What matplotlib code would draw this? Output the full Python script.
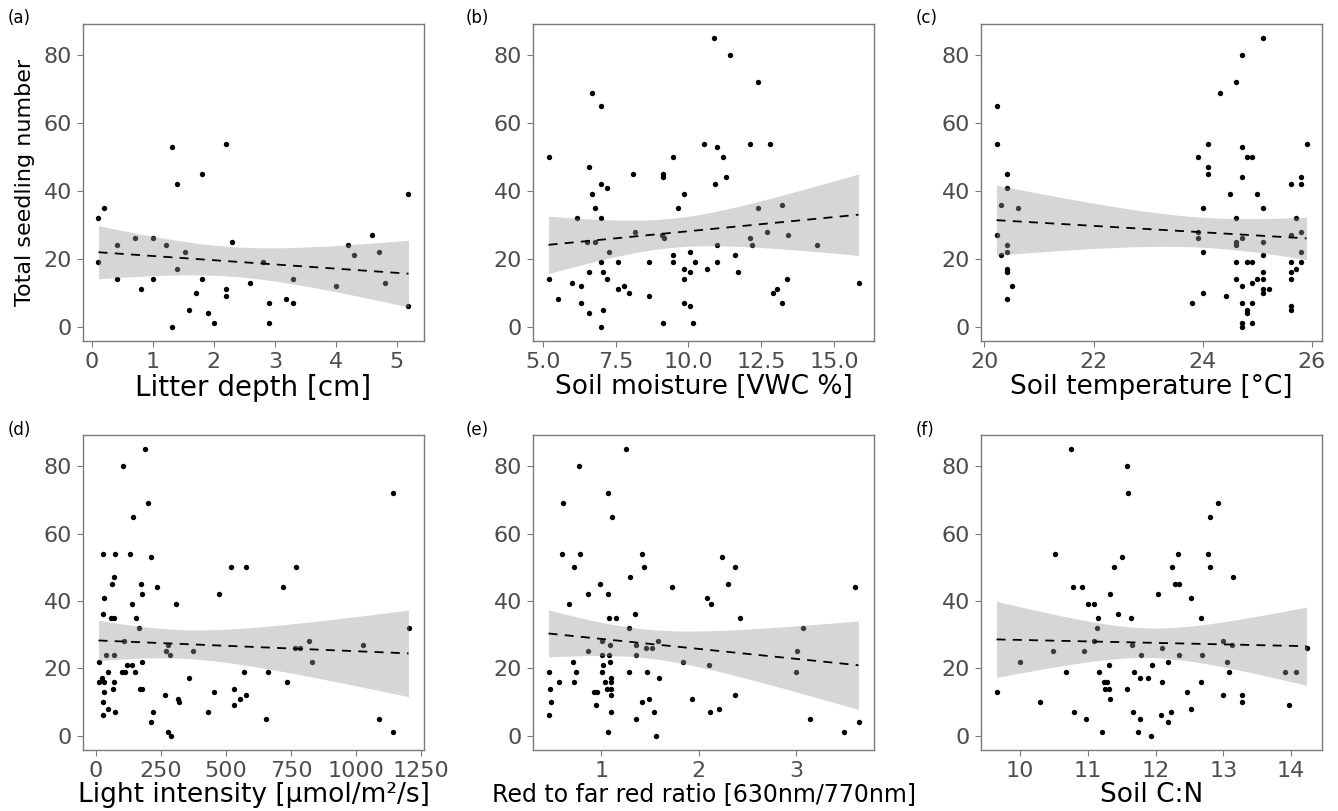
import numpy as np
import matplotlib
matplotlib.use("Agg")
import matplotlib.pyplot as plt

plt.rcParams['font.family'] = ['DejaVu Sans']

# ---------------- data ----------------
litter_x = [0.11, 0.20, 0.11, 0.41, 0.41, 0.71, 0.80, 1.01, 1.01, 1.21, 1.31, 1.31, 1.40, 1.40,
            1.52, 1.60, 1.70, 1.81, 1.81, 1.91, 2.00, 2.20, 2.20, 2.20, 2.30, 2.60, 2.80, 2.91,
            2.91, 3.19, 3.30, 3.30, 4.00, 4.20, 4.30, 4.59, 4.70, 4.80, 5.19, 5.19]
litter_y = [32, 35, 19, 24, 14, 26, 11, 26, 14, 24, 53, 0, 42, 17,
            22, 5, 10, 45, 14, 4, 1, 54, 11, 9, 25, 13, 19, 7,
            1, 8, 14, 7, 12, 24, 21, 27, 22, 13, 39, 6]

moist_x = [5.20, 5.20, 5.51, 6.00, 6.19, 6.31, 6.31, 6.51, 6.59, 6.59, 6.59, 6.69, 6.69, 6.78,
           6.78, 6.99, 6.99, 6.99, 6.99, 6.99, 7.08, 7.08, 7.20, 7.20, 7.27, 7.58, 7.58, 7.78,
           7.96, 8.09, 8.16, 8.66, 8.66, 9.14, 9.14, 9.10, 9.17, 9.14, 9.46, 9.46, 9.46, 9.65,
           9.85, 9.85, 9.85, 9.85, 10.05, 10.05, 10.05, 10.15, 10.24, 10.54, 10.65, 10.86, 10.91,
           10.99, 10.99, 10.99, 11.41, 12.39, 11.20, 12.11, 12.81, 11.28, 12.39, 13.20, 12.69,
           12.11, 12.19, 13.41, 14.42, 11.59, 11.69, 13.39, 13.02, 12.90, 13.20, 15.83]
moist_y = [50, 14, 8, 13, 32, 12, 7, 25, 47, 16, 4, 69, 39, 35,
           25, 65, 42, 32, 19, 0, 16, 5, 41, 14, 22, 19, 11, 12,
           10, 45, 28, 19, 9, 45, 44, 27, 26, 1, 50, 21, 19, 35,
           39, 17, 14, 7, 22, 16, 6, 1, 19, 54, 17, 85, 42,
           53, 24, 19, 80, 72, 50, 54, 54, 44, 35, 36, 28,
           26, 24, 27, 24, 21, 16, 14, 11, 10, 7, 13]

temp_x = [20.22, 20.22, 20.41, 20.41, 20.30, 20.61, 20.22, 20.41, 20.41, 20.30, 20.41, 20.41,
          20.51, 20.41, 25.11, 24.72, 24.61, 24.31, 24.10, 24.72, 25.90, 23.92, 24.81, 24.91,
          24.10, 24.10, 24.72, 25.80, 25.61, 25.80, 24.50, 25.00, 24.00, 25.11, 24.61, 25.71,
          23.92, 23.92, 24.61, 24.61, 24.72, 25.11, 25.61, 25.80, 25.80, 24.00, 24.61, 24.81,
          24.91, 25.11, 25.61, 25.80, 25.71, 25.11, 25.61, 24.61, 25.00, 25.11, 24.91, 25.61,
          24.72, 25.11, 25.21, 25.11, 24.00, 24.42, 23.81, 24.72, 24.91, 24.81, 24.81, 25.61,
          25.61, 24.72, 24.72, 24.91]
temp_y = [65, 54, 45, 41, 36, 35, 27, 24, 22, 21, 17, 16,
          12, 8, 85, 80, 72, 69, 54, 53, 54, 50, 50, 50,
          47, 45, 44, 44, 42, 42, 39, 39, 35, 35, 32, 32,
          28, 26, 25, 24, 26, 25, 27, 28, 22, 22, 19, 19,
          19, 21, 19, 19, 17, 16, 16, 14, 14, 14, 13, 14,
          12, 11, 11, 10, 10, 9, 7, 7, 7, 5, 4, 6,
          5, 1, 0, 1]

light_x = [187, 104, 201, 142, 29, 73, 131, 213, 69, 60, 173, 179, 236, 33, 138, 306, 26, 58,
           69, 153, 165, 12, 38, 69, 109, 45, 10, 24, 33, 33, 69, 65, 26, 45, 29, 73, 101, 113,
           121, 138, 149, 168, 178, 179, 218, 213, 265, 276, 271, 283, 277, 287, 314, 321, 358,
           372, 432, 454, 473, 519, 576, 529, 532, 555, 568, 577, 655, 660, 719, 768, 733, 765,
           785, 820, 829, 1026, 1086, 1140, 1140, 1201]
light_y = [85, 80, 69, 65, 54, 54, 54, 53, 47, 45, 45, 42, 44, 41, 39, 39, 36, 35,
           35, 35, 32, 22, 24, 24, 28, 19, 16, 17, 16, 13, 16, 14, 10, 8, 6, 7, 19, 19,
           21, 21, 19, 14, 14, 22, 7, 4, 12, 27, 25, 24, 1, 0, 11, 10, 17,
           25, 7, 13, 42, 50, 50, 14, 9, 11, 19, 12, 5, 19, 44, 50, 16, 26,
           26, 28, 22, 27, 5, 72, 1, 32]

rfr_x = [1.26, 0.77, 1.07, 0.61, 1.11, 0.60, 0.78, 1.42, 0.72, 1.44, 1.30, 0.99, 1.73, 0.87,
         1.07, 0.67, 1.35, 1.08, 1.15, 1.29, 1.01, 1.09, 0.87, 1.01, 1.08, 1.36, 1.36, 1.46,
         1.52, 1.58, 1.02, 1.09, 0.71, 0.47, 0.74, 1.01, 1.29, 1.47, 0.57, 0.72, 1.04, 1.10,
         1.10, 1.59, 0.48, 1.06, 1.10, 0.93, 0.96, 1.10, 0.49, 0.95, 1.42, 1.49, 1.93, 0.46,
         1.10, 1.36, 1.54, 1.07, 1.56, 1.84, 2.09, 2.13, 2.11, 2.12, 2.21, 2.24, 2.37, 2.30,
         2.42, 3.07, 3.01, 3.00, 3.60, 2.37, 3.14, 3.49, 3.64]
rfr_y = [85, 80, 72, 69, 65, 54, 54, 54, 50, 50, 47, 45, 44, 42,
         42, 39, 36, 35, 35, 32, 28, 27, 25, 24, 24, 27, 24, 26,
         26, 28, 21, 22, 22, 19, 19, 19, 19, 19, 16, 16, 16, 17,
         16, 17, 14, 14, 14, 13, 13, 12, 10, 9, 10, 11, 11, 6,
         7, 5, 7, 1, 0, 22, 41, 39, 21, 7, 8, 53, 50, 45,
         35, 32, 25, 19, 44, 12, 5, 1, 4]

cn_x = [9.65, 9.99, 10.30, 10.48, 10.51, 10.68, 10.75, 10.78, 10.80, 10.92, 10.94, 10.97,
        11.00, 11.09, 11.09, 11.13, 11.15, 11.17, 11.21, 11.24, 11.28, 11.26, 11.31, 11.31,
        11.33, 11.33, 11.38, 11.44, 11.51, 11.58, 11.60, 11.58, 11.63, 11.65, 11.66, 11.68,
        11.74, 11.77, 11.77, 11.79, 11.89, 11.93, 11.94, 12.04, 12.10, 12.09, 12.08, 12.18,
        12.18, 12.23, 12.24, 12.28, 12.34, 12.33, 12.35, 12.47, 12.52, 12.53, 12.67, 12.68,
        12.67, 12.78, 12.81, 12.81, 12.92, 13.00, 13.00, 13.06, 13.08, 13.13, 13.15, 13.28,
        13.28, 13.91, 13.97, 14.08, 14.23]
cn_y = [13, 22, 10, 25, 54, 19, 85, 44, 7, 44, 25, 5,
        39, 39, 28, 32, 35, 19, 1, 16, 16, 14, 14, 21,
        42, 11, 50, 36, 53, 80, 72, 14, 35, 27, 7, 19,
        1, 17, 5, 24, 17, 0, 21, 42, 26, 16, 6, 4,
        22, 7, 50, 45, 45, 54, 24, 13, 8, 41, 35, 24,
        16, 54, 65, 50, 69, 28, 12, 22, 19, 27, 47, 12,
        10, 19, 9, 19, 26]

panels = [
    ("(a)", litter_x, litter_y, "Litter depth [cm]", [0, 1, 2, 3, 4, 5], ["0", "1", "2", "3", "4", "5"]),
    ("(b)", moist_x, moist_y, "Soil moisture [VWC %]", [5, 7.5, 10, 12.5, 15], ["5.0", "7.5", "10.0", "12.5", "15.0"]),
    ("(c)", temp_x, temp_y, "Soil temperature [°C]", [20, 22, 24, 26], ["20", "22", "24", "26"]),
    ("(d)", light_x, light_y, "Light intensity [μmol/m²/s]", [0, 250, 500, 750, 1000, 1250],
     ["0", "250", "500", "750", "1000", "1250"]),
    ("(e)", rfr_x, rfr_y, "Red to far red ratio [630nm/770nm]", [1, 2, 3], ["1", "2", "3"]),
    ("(f)", cn_x, cn_y, "Soil C:N", [10, 11, 12, 13, 14], ["10", "11", "12", "13", "14"]),
]
y_ticks = [0, 20, 40, 60, 80]


def t975(df):
    z = 1.959964
    return (z + (z**3 + z) / (4 * df) + (5 * z**5 + 16 * z**3 + 3 * z) / (96 * df**2)
            + (3 * z**7 + 19 * z**5 + 17 * z**3 - 15 * z) / (384 * df**3))


W, H = 1338, 811
fig = plt.figure(figsize=(W / 100, H / 100), dpi=100)

col_left = [83, 533, 981]
col_w = 341
row_top = [24, 435]
row_h = [317, 315]
tag_x = [8, 466, 916]
tag_y = [18, 430]
xlabel_size = [20, 19, 19, 19, 17, 19]

grey_txt = '#4d4d4d'
spine_c = '#7a7a7a'

for i, (tag, xs, ys, xlabel, xt, xtl) in enumerate(panels):
    r, c = divmod(i, 3)
    ax = fig.add_axes([col_left[c] / W, 1 - (row_top[r] + row_h[r]) / H, col_w / W, row_h[r] / H])
    x = np.asarray(xs, float)
    y = np.asarray(ys, float)
    ax.scatter(x, y, s=15, color='black', linewidths=0, zorder=2)

    # linear fit with 95% CI (as geom_smooth(method='lm'))
    n = len(x)
    b, a = np.polyfit(x, y, 1)
    xg = np.linspace(x.min(), x.max(), 200)
    yg = a + b * xg
    resid = y - (a + b * x)
    s = np.sqrt(np.sum(resid**2) / (n - 2))
    se = s * np.sqrt(1 / n + (xg - x.mean())**2 / np.sum((x - x.mean())**2))
    tq = t975(n - 2)
    ax.fill_between(xg, yg - tq * se, yg + tq * se, color='#999999', alpha=0.4,
                    linewidth=0, zorder=3)
    ax.plot(xg, yg, color='black', lw=1.3, linestyle=(0, (5, 4)), zorder=4)

    rng = x.max() - x.min()
    ax.set_xlim(x.min() - 0.05 * rng, x.max() + 0.05 * rng)
    ax.set_ylim(-4.25, 89.25)
    ax.set_xticks(xt)
    ax.set_xticklabels(xtl)
    ax.set_yticks(y_ticks)
    ax.tick_params(axis='both', colors=spine_c, labelcolor=grey_txt, labelsize=16,
                   length=4, width=0.8, pad=4)
    for sp in ax.spines.values():
        sp.set_color(spine_c)
        sp.set_linewidth(1.0)
    ax.set_xlabel(xlabel, fontsize=xlabel_size[i], color='black', labelpad=1)
    if i == 0:
        ax.set_ylabel("Total seedling number", fontsize=16, color='black', labelpad=6)
    fig.text(tag_x[c] / W, 1 - tag_y[r] / H, tag, fontsize=12, color='black',
             ha='left', va='center')

fig.savefig("out.png", dpi=100, facecolor='white')
